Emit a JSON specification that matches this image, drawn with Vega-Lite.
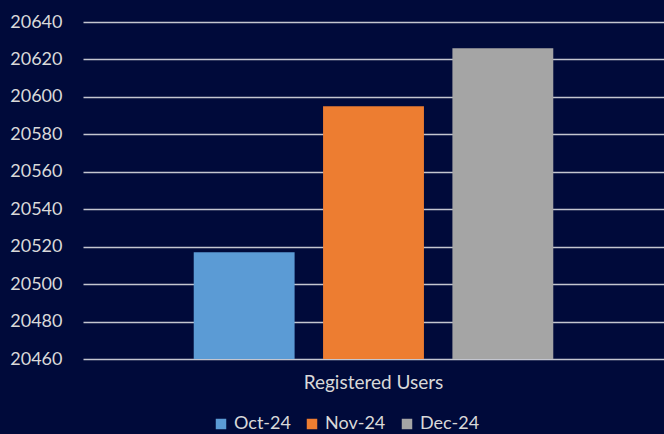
{
  "$schema": "https://vega.github.io/schema/vega-lite/v6.json",
  "width": 581,
  "height": 337,
  "autosize": "none",
  "padding": {"left": 83, "top": 22, "right": 0, "bottom": 75},
  "background": "#000a3a",
  "config": {
    "view": {"stroke": null},
    "font": "Lato",
    "axis": {"labelFont": "Lato", "labelColor": "#d9d9d9", "labelFontSize": 18, "titleFont": "Lato"},
    "legend": {"labelFont": "Lato", "labelColor": "#d9d9d9", "labelFontSize": 18}
  },
  "data": {
    "values": [
      {"metric": "Registered Users", "month": "Oct-24", "users": 20517},
      {"metric": "Registered Users", "month": "Nov-24", "users": 20595},
      {"metric": "Registered Users", "month": "Dec-24", "users": 20626}
    ]
  },
  "mark": {"type": "bar", "clip": true},
  "encoding": {
    "x": {
      "field": "metric",
      "type": "nominal",
      "scale": {"paddingInner": 0, "paddingOuter": 0.2487},
      "axis": {"title": null, "ticks": false, "domain": false, "labelPadding": 14, "labelAngle": 0, "labelFontSize": 19}
    },
    "xOffset": {
      "field": "month",
      "type": "nominal",
      "sort": ["Oct-24", "Nov-24", "Dec-24"],
      "scale": {"paddingInner": 0.22, "paddingOuter": 0.11}
    },
    "y": {
      "field": "users",
      "type": "quantitative",
      "scale": {"domain": [20460, 20640], "zero": false, "nice": false},
      "axis": {
        "title": null,
        "values": [20460, 20480, 20500, 20520, 20540, 20560, 20580, 20600, 20620, 20640],
        "format": "d",
        "ticks": false,
        "domain": false,
        "labelPadding": 21,
        "gridColor": "#c4c6d0",
        "gridWidth": 1.5,
        "gridOpacity": 1
      }
    },
    "color": {
      "field": "month",
      "type": "nominal",
      "sort": ["Oct-24", "Nov-24", "Dec-24"],
      "scale": {"domain": ["Oct-24", "Nov-24", "Dec-24"], "range": ["#5b9bd5", "#ed7d31", "#a5a5a5"]},
      "legend": {
        "title": null,
        "orient": "none",
        "direction": "horizontal",
        "legendX": 129,
        "legendY": 393,
        "symbolType": "square",
        "symbolSize": 110,
        "symbolStrokeWidth": 0,
        "labelOffset": 4,
        "columnPadding": 12
      }
    }
  }
}
